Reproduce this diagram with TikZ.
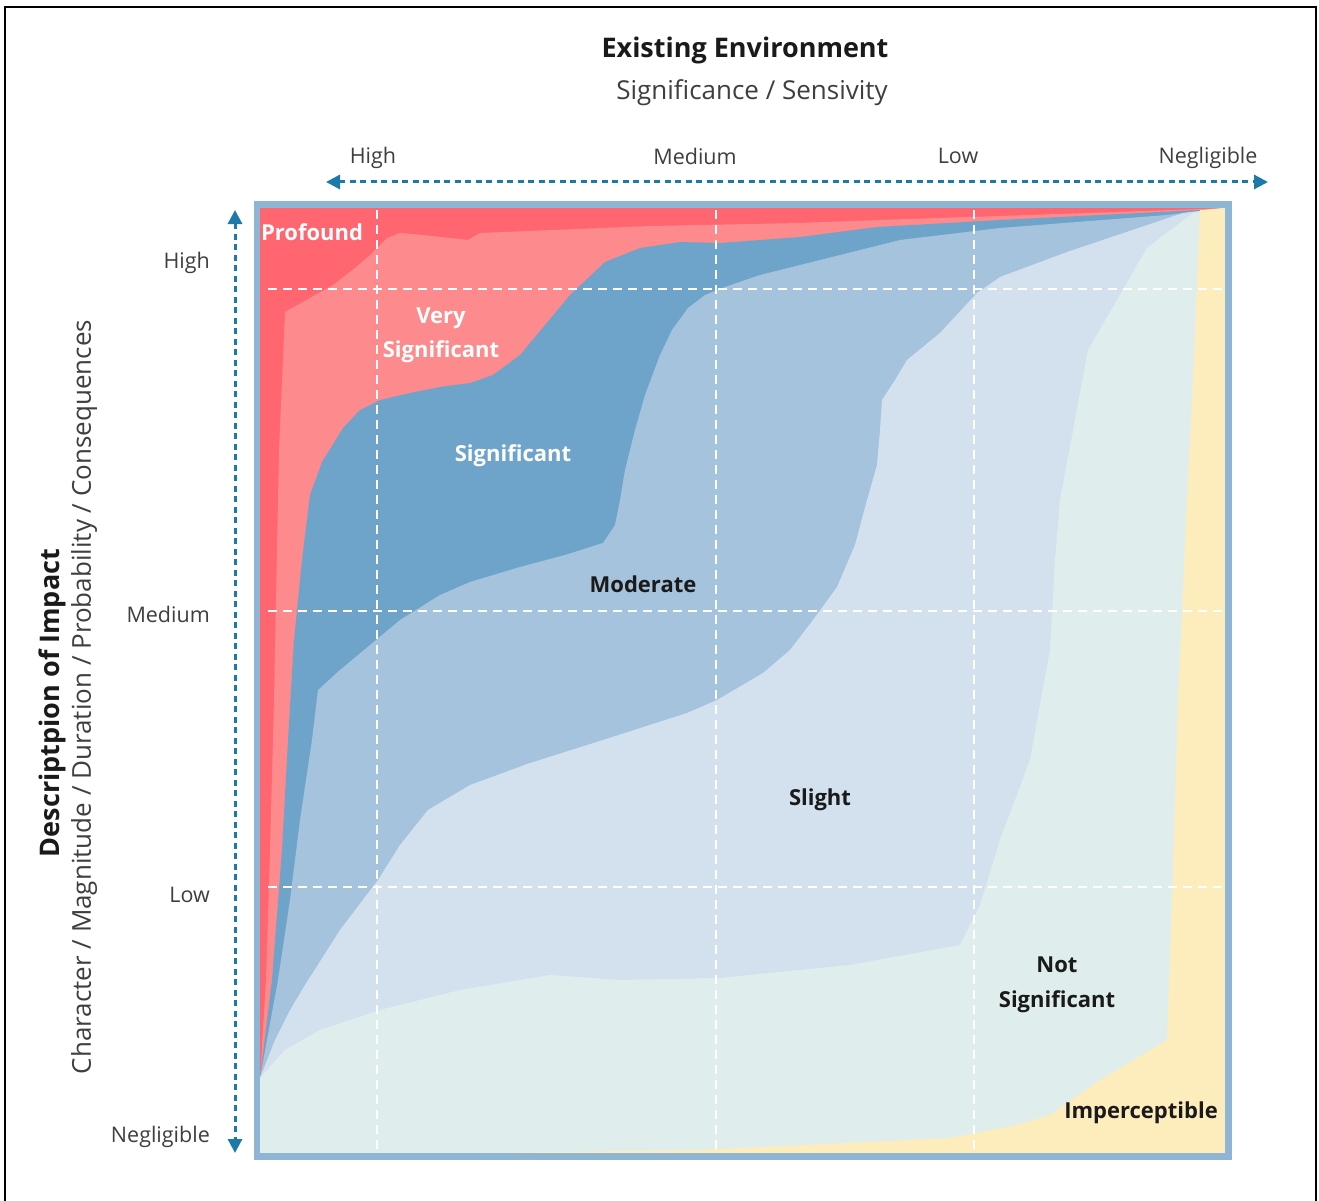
\documentclass[tikz,border=0pt]{standalone}
\usepackage{fontspec}
\setmainfont{Open Sans}
\usetikzlibrary{arrows.meta}
\definecolor{cProf}{HTML}{FF6670}
\definecolor{cVery}{HTML}{FD8A8D}
\definecolor{cSig}{HTML}{6FA4CA}
\definecolor{cMod}{HTML}{A5C3DC}
\definecolor{cSli}{HTML}{D3E1EE}
\definecolor{cNot}{HTML}{DFEEED}
\definecolor{cImp}{HTML}{FDEDBD}
\definecolor{cBorder}{HTML}{8FB5D5}
\definecolor{cArrow}{HTML}{1C7AAB}
\definecolor{cAxisTxt}{HTML}{3F3F3F}
\definecolor{cDark}{HTML}{1A1A1A}
\newcommand{\fsz}[1]{\fontsize{#1}{#1}\selectfont}
\newcommand{\fszl}[2]{\fontsize{#1}{#2}\selectfont}
\begin{document}
\begin{tikzpicture}[x=1pt,y=-1pt,
  gridline/.style={white, line width=2pt, dash pattern=on 9pt off 6pt},
  axisarrow/.style={cArrow, line width=3pt, dash pattern=on 6pt off 4.5pt, {Triangle[length=14pt,width=14pt]}-{Triangle[length=14pt,width=14pt]}},
  axislabel/.style={text=cAxisTxt, font=\fsz{21.5}, inner sep=0pt},
  lightlabel/.style={text=white, font=\fszl{22}{34}\bfseries, inner sep=0pt, align=center},
  darklabel/.style={text=cDark, font=\fszl{22}{35}\bfseries, inner sep=0pt, align=center}]
\useasboundingbox (0,0) rectangle (1319,1201);
\fill[white] (0,0) rectangle (1319,1201);
\draw[black, line width=2pt] (5,1201) -- (5,7) -- (1316,7) -- (1316,1201);

% regions
\fill[cProf] (260,208) rectangle (1225,1153);
\fill[cVery] (260,1078) -- (266,980) -- (270,850) -- (274,700) -- (277,550) -- (279,450) -- (285,312)
  -- (333,285) -- (355,268) -- (370,255) -- (387,238) -- (400,233) -- (423,235) -- (450,238) -- (468,240) -- (480,233)
  -- (650,226) -- (800,223) -- (877,220) -- (1000,216) -- (1200,209) -- (1225,208)
  -- (1225,1153) -- (260,1153) -- cycle;
\fill[cSig] (260,1078) -- (272,980) -- (282,850) -- (288,740) -- (294,640) -- (302,560) -- (310,495) -- (322,462) -- (343,428)
  -- (360,410) -- (380,400) -- (410,393) -- (440,387) -- (470,383) -- (493,375) -- (520,355) -- (545,325) -- (570,295)
  -- (605,262) -- (640,248) -- (680,242) -- (720,243) -- (800,237) -- (877,227) -- (1000,220) -- (1200,210) -- (1225,208)
  -- (1225,1153) -- (260,1153) -- cycle;
\fill[cMod] (260,1078) -- (278,980) -- (290,900) -- (300,820) -- (312,740) -- (318,690)
  -- (340,670) -- (370,645) -- (400,620) -- (440,595) -- (470,582) -- (520,567) -- (565,555) -- (603,543)
  -- (615,525) -- (620,500) -- (625,470) -- (635,430) -- (645,395) -- (660,355) -- (672,330) -- (688,308)
  -- (705,295) -- (725,287) -- (760,275) -- (800,265) -- (900,240) -- (1000,228) -- (1167,215) -- (1225,208)
  -- (1225,1153) -- (260,1153) -- cycle;
\fill[cSli] (260,1078) -- (275,1040) -- (290,1010) -- (305,985) -- (340,930) -- (378,880) -- (400,845) -- (428,810)
  -- (470,785) -- (530,763) -- (603,740) -- (687,713) -- (717,700) -- (763,673) -- (790,650) -- (813,620)
  -- (837,587) -- (855,545) -- (867,500) -- (877,465) -- (880,430) -- (882,400) -- (895,380) -- (907,360)
  -- (940,333) -- (977,293) -- (1000,277) -- (1067,252) -- (1183,213) -- (1225,208)
  -- (1225,1153) -- (260,1153) -- cycle;
\fill[cNot] (260,1078) -- (285,1050) -- (320,1030) -- (380,1010) -- (460,990) -- (550,975) -- (620,980)
  -- (720,978) -- (850,965) -- (960,945) -- (980,905) -- (1000,840) -- (1030,760) -- (1050,650) -- (1055,560)
  -- (1060,500) -- (1075,420) -- (1088,350) -- (1117,300) -- (1147,248) -- (1193,213) -- (1225,208)
  -- (1225,1153) -- (260,1153) -- cycle;
\fill[cImp] (480,1153) -- (700,1150) -- (950,1138) -- (1017,1125) -- (1050,1115) -- (1067,1103) -- (1100,1080)
  -- (1167,1040) -- (1172,900) -- (1178,700) -- (1187,500) -- (1193,380) -- (1200,210) -- (1225,208)
  -- (1225,1153) -- cycle;

% grid
\coordinate (gv1t) at (377,210); \coordinate (gv1b) at (377,1151);
\coordinate (gv2t) at (716,210); \coordinate (gv2b) at (716,1151);
\coordinate (gv3t) at (974,210); \coordinate (gv3b) at (974,1151);
\coordinate (gh1l) at (268,289); \coordinate (gh1r) at (1223,289);
\coordinate (gh2l) at (268,611); \coordinate (gh2r) at (1223,611);
\coordinate (gh3l) at (268,887); \coordinate (gh3r) at (1223,887);
\draw[gridline] (gv1t) -- (gv1b);
\draw[gridline] (gv2t) -- (gv2b);
\draw[gridline] (gv3t) -- (gv3b);
\draw[gridline] (gh1l) -- (gh1r);
\draw[gridline] (gh2l) -- (gh2r);
\draw[gridline] (gh3l) -- (gh3r);

% border
\draw[cBorder, line width=6.5pt] (256.75,204.75) rectangle (1228.25,1156.25);

% axis arrows
\coordinate (xa) at (326,182); \coordinate (xb) at (1268,182);
\coordinate (ya) at (235,210); \coordinate (yb) at (235,1153);
\draw[axisarrow] (xa) -- (xb);
\draw[axisarrow] (ya) -- (yb);

% titles
\node[text=cDark, font=\fsz{27}\bfseries, inner sep=0pt] (title) at (745,50) {Existing Environment};
\node[text=cAxisTxt, font=\fsz{26}, inner sep=0pt] (subtitle) at (752,93) {Significance / Sensivity};

% top axis labels
\node[axislabel] (tH) at (373,158) {High};
\node[axislabel] (tM) at (695,156) {Medium};
\node[axislabel] (tL) at (958,156) {Low};
\node[axislabel] (tN) at (1208,158) {Negligible};

% left axis labels
\node[axislabel, anchor=east] (lH) at (210,263) {High};
\node[axislabel, anchor=east] (lM) at (210,614) {Medium};
\node[axislabel, anchor=east] (lL) at (210,895) {Low};
\node[axislabel, anchor=east] (lN) at (210,1137) {Negligible};

% vertical titles
\node[rotate=90, text=cDark, font=\fsz{27}\bfseries, inner sep=0pt] (vtitle) at (52,703) {Descriptpion of Impact};
\node[rotate=90, text=cAxisTxt, font=\fsz{26}, inner sep=0pt] (vsub) at (84,697) {Character / Magnitude / Duration / Probability / Consequences};

% region labels
\node[lightlabel] (rProf) at (312,232) {Profound};
\node[lightlabel] (rVery) at (441,335) {Very\\Significant};
\node[lightlabel] (rSig) at (513,456) {Significant};
\node[darklabel] (rMod) at (643,584) {Moderate};
\node[darklabel] (rSli) at (820,800) {Slight};
\node[darklabel] (rNot) at (1057,985) {Not\\Significant};
\node[darklabel] (rImp) at (1141,1113) {Imperceptible};
\end{tikzpicture}
\end{document}
